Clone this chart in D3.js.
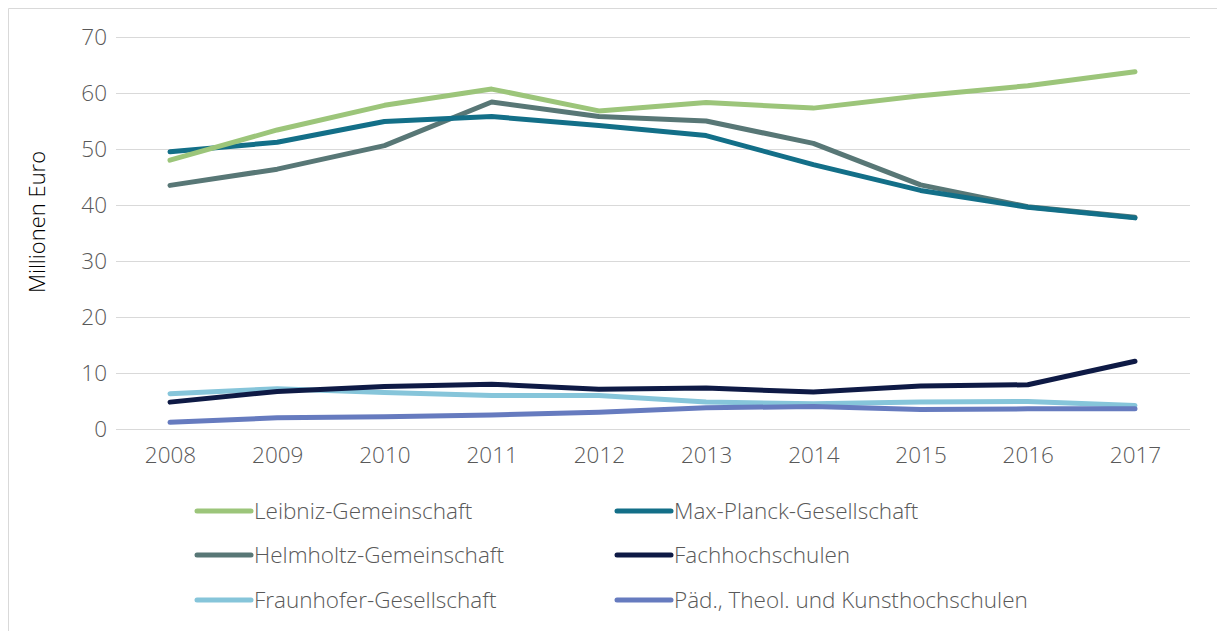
<!DOCTYPE html>
<html><head><meta charset="utf-8">
<script src="https://cdn.jsdelivr.net/npm/d3@7"></script>
<style>body{margin:0;background:#fff;}svg{display:block;font-family:"Open Sans",sans-serif;}</style>
</head><body>
<svg id="c" width="1217" height="631"></svg>
<script>
const years = ["2008","2009","2010","2011","2012","2013","2014","2015","2016","2017"];
const yTicks = [0,10,20,30,40,50,60,70];
const seriesNames = ["Leibniz-Gemeinschaft","Max-Planck-Gesellschaft","Helmholtz-Gemeinschaft","Fachhochschulen","Fraunhofer-Gesellschaft","Päd., Theol. und Kunsthochschulen"];
const colors = ["#9cc57a","#136f88","#587776","#0e1a45","#86c5da","#667bbf"];
const leibniz = [48.0,53.4,57.8,60.7,56.8,58.3,57.3,59.5,61.3,63.8];
const maxPlanck = [49.5,51.2,54.9,55.8,54.2,52.4,47.2,42.6,39.6,37.7];
const helmholtz = [43.5,46.4,50.6,58.4,55.8,55.0,51.0,43.6,39.7,37.8];
const fachhochschulen = [4.8,6.7,7.6,8.0,7.1,7.3,6.6,7.7,7.9,12.1];
const fraunhofer = [6.3,7.2,6.5,6.0,6.0,4.8,4.5,4.8,4.9,4.2];
const paed = [1.2,2.0,2.2,2.5,3.0,3.8,4.0,3.5,3.6,3.6];
const values = [leibniz,maxPlanck,helmholtz,fachhochschulen,fraunhofer,paed];

const svg = d3.select("#c");
// frame
svg.append("line").attr("x1",8.5).attr("x2",1217).attr("y1",8.5).attr("y2",8.5).attr("stroke","#d9d9d9").attr("stroke-width",1);
svg.append("line").attr("x1",8.5).attr("x2",8.5).attr("y1",8.5).attr("y2",631).attr("stroke","#d9d9d9").attr("stroke-width",1);

const pLeft=116, pRight=1190, pTop=37, pBottom=429;
const x = d3.scalePoint().domain(years).range([170,1135]);
const y = d3.scaleLinear().domain([0,70]).range([pBottom,pTop]);

// grid
svg.append("g").selectAll("line").data(yTicks).join("line")
  .attr("x1",pLeft).attr("x2",pRight)
  .attr("y1",d=>Math.round(y(d))+0.5).attr("y2",d=>Math.round(y(d))+0.5)
  .attr("stroke","#d9d9d9").attr("stroke-width",1);

// y axis
const yAxis = svg.append("g").attr("transform",`translate(${pLeft},0)`)
  .call(d3.axisLeft(y).tickValues(yTicks).tickSize(0).tickPadding(9));
yAxis.select(".domain").remove();
yAxis.selectAll("text").attr("font-size",22.5).attr("font-weight",300).attr("fill","#595959").attr("font-family","Open Sans").attr("dy","0.35em");

// x axis
const xAxis = svg.append("g").attr("transform",`translate(0,${pBottom})`)
  .call(d3.axisBottom(x).tickSize(0).tickPadding(18));
xAxis.select(".domain").remove();
xAxis.selectAll("text").attr("font-size",22.5).attr("font-weight",300).attr("fill","#595959").attr("font-family","Open Sans");

// axis title
svg.append("text").attr("transform","translate(45,222) rotate(-90)")
  .attr("text-anchor","middle").attr("font-size",22).attr("font-weight",300).attr("fill","#000")
  .text("Millionen Euro");

// lines
const line = d3.line().x((d,i)=>x(years[i])).y(d=>y(d));
const order = [4,5,3,2,1,0];
svg.append("g").selectAll("path").data(order).join("path")
  .attr("d",i=>line(values[i]))
  .attr("fill","none").attr("stroke",i=>colors[i]).attr("stroke-width",5)
  .attr("stroke-linecap","round").attr("stroke-linejoin","round");

// legend
const legX = [195,615], legY = [511,555,600];
const leg = svg.append("g").selectAll("g").data(seriesNames).join("g")
  .attr("transform",(d,i)=>`translate(${legX[i%2]},${legY[Math.floor(i/2)]})`);
leg.append("line").attr("x1",2).attr("x2",56).attr("y1",0).attr("y2",0)
  .attr("stroke",(d,i)=>colors[i]).attr("stroke-width",5).attr("stroke-linecap","round");
leg.append("text").attr("x",59).attr("y",0).attr("dy","0.35em")
  .attr("font-size",22.5).attr("font-weight",300).attr("fill","#595959").text(d=>d);
</script>
</body></html>
